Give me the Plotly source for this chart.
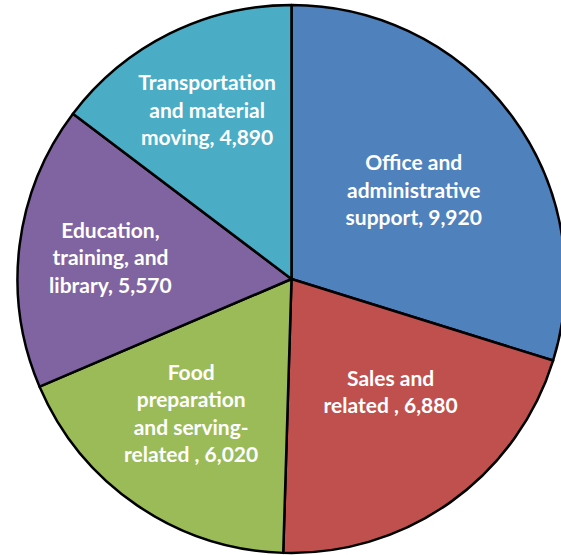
import plotly.graph_objects as go

# occupation groups, clockwise from 12 o'clock
categories = [
    "Office and administrative support",
    "Sales and related",
    "Food preparation and serving-related",
    "Education, training, and library",
    "Transportation and material moving",
]
employment = [9920, 6880, 6020, 5570, 4890]
# wrapped label text as it appears inside each slice
label_lines = [
    "Office and<br>administrative<br>support",
    "Sales and<br>related ",
    "Food<br>preparation<br>and serving-<br>related ",
    "Education,<br>training, and<br>library",
    "Transportation<br>and material<br>moving",
]
# blank lines after the label nudge the two lower labels upwards
label_tail = ["", "<br> <br> ", "<br> ", "", ""]
colors = ["#4F81BD", "#C0504D", "#9BBB59", "#8064A2", "#4BACC6"]

text = [f"{lab}, {v:,}{t}" for lab, v, t in zip(label_lines, employment, label_tail)]

fig = go.Figure(
    go.Pie(
        labels=categories,
        values=employment,
        text=text,
        textinfo="text",
        textposition="inside",
        insidetextorientation="horizontal",
        insidetextfont=dict(family="Lato", size=21, color="white", weight="bold"),
        sort=False,
        direction="clockwise",
        rotation=0,
        marker=dict(colors=colors, line=dict(color="black", width=2.5)),
        showlegend=False,
        hoverinfo="label+value",
    )
)

# the pie runs a little past the right edge of the window in the original
fig.update_layout(
    width=583,
    height=555,
    margin=dict(l=0, r=0, t=5, b=2),
    paper_bgcolor="white",
)

fig.write_html(
    "out.html",
    config={"displayModeBar": False},
    post_script="document.body.style.margin='0';document.body.style.overflow='hidden';",
)
